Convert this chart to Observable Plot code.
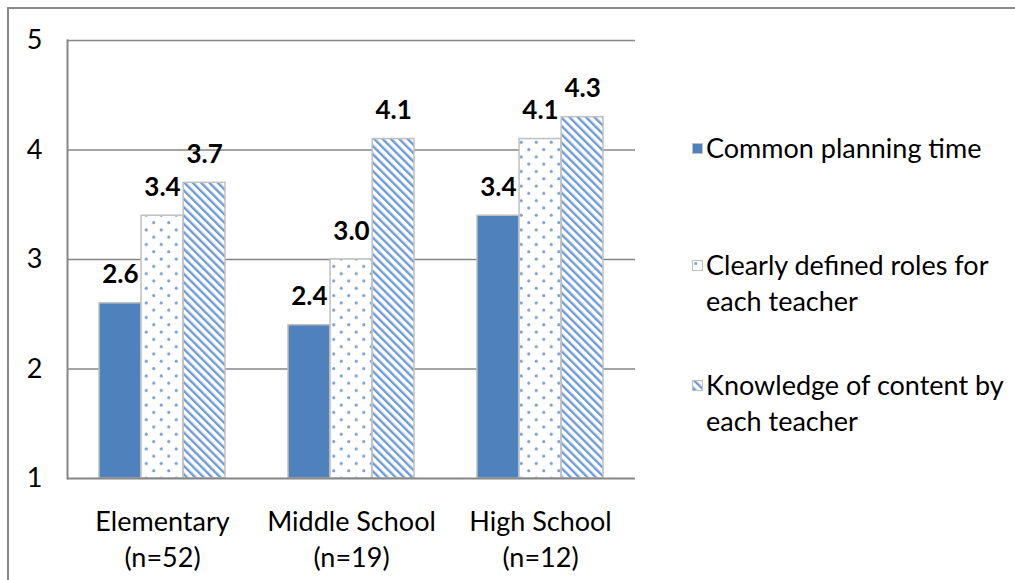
<!DOCTYPE html>
<html>
<head>
<meta charset="utf-8">
<script src="https://cdn.jsdelivr.net/npm/d3@7"></script>
<script src="https://cdn.jsdelivr.net/npm/@observablehq/plot@0.6"></script>
<style>
  html, body { margin: 0; padding: 0; background: #fff; overflow: hidden; }
  body { width: 1015px; height: 580px; position: relative; font-family: Lato, sans-serif; }
  #border { position: absolute; left: 7px; top: 7px; width: 1100px; height: 700px; border: 2px solid #888; box-sizing: border-box; }
  #chart { position: absolute; left: 0; top: 0; }
  #legend { position: absolute; left: 692px; top: 0; width: 323px; font-size: 27px; color: #000; }
  .item { position: absolute; left: 0; display: flex; align-items: flex-start; line-height: 36px; }
  .swatch { width: 11px; height: 11px; margin-top: 13px; margin-right: 3px; flex: none; }
  .label { width: 305px; }
</style>
</head>
<body>
<svg width="0" height="0" style="position:absolute">
  <defs>
    <pattern id="dots" width="15" height="14.6" patternUnits="userSpaceOnUse">
      <rect width="15" height="14.6" fill="#fff"></rect>
      <circle cx="3.75" cy="3.6" r="1.6" fill="#7aa2d8"></circle>
      <circle cx="11.25" cy="10.9" r="1.6" fill="#7aa2d8"></circle>
    </pattern>
    <pattern id="hatch" width="5.9" height="5.9" patternUnits="userSpaceOnUse" patternTransform="rotate(-45)">
      <rect width="5.9" height="5.9" fill="#fff"></rect>
      <rect width="2.4" height="5.9" fill="#6f9bd4"></rect>
    </pattern>
  </defs>
</svg>
<div id="border"></div>
<div id="chart"></div>
<div id="legend"></div>
<script>
// Mean ratings by school level (scale 1–5)
const schools = ["Elementary", "Middle School", "High School"];
const sampleSizes = [52, 19, 12];
const seriesNames = [
  "Common planning time",
  "Clearly defined roles for each teacher",
  "Knowledge of content by each teacher"
];
const planningTime = [2.6, 2.4, 3.4];
const definedRoles = [3.4, 3.0, 4.1];
const contentKnowledge = [3.7, 4.1, 4.3];
const yTicks = [1, 2, 3, 4, 5];

const seriesValues = [planningTime, definedRoles, contentKnowledge];
const seriesFills = ["#4f81bd", "url(#dots)", "url(#hatch)"];

const rows = schools.flatMap((school, i) =>
  seriesNames.map((name, j) => ({school, series: name, idx: j, value: seriesValues[j][i]}))
);

// Layout
const W = 1015, H = 580;
const mL = 67, mR = 380, mT = 40, mB = 102;
const step = (W - mL - mR) / schools.length;
const groupW = step * (2 / 3);
const barW = groupW / 3;

const axisColor = "#868686";
const font = "Lato, sans-serif";

const bars = seriesNames.map((name, j) =>
  Plot.barY(rows.filter(d => d.idx === j), {
    x: "school", y1: 1, y2: "value",
    fill: seriesFills[j], stroke: "#c0c0c0", strokeWidth: 1.5,
    insetLeft: j * barW, insetRight: (seriesNames.length - 1 - j) * barW
  })
);

const labels = seriesNames.map((name, j) =>
  Plot.text(rows.filter(d => d.idx === j), {
    x: "school", y: "value", text: d => d.value.toFixed(1),
    dx: (j - 1) * barW, dy: -20, lineAnchor: "bottom",
    fontWeight: "bold", fontSize: 26, fill: "#000"
  })
);

const chart = Plot.plot({
  width: W, height: H,
  marginLeft: mL, marginRight: mR, marginTop: mT, marginBottom: mB,
  style: {fontFamily: font, fontSize: "27px", color: "#000", background: "transparent", overflow: "visible"},
  x: {domain: schools, paddingInner: 1 / 3, paddingOuter: 1 / 6, label: null},
  y: {domain: [1, 5], label: null},
  marks: [
    Plot.ruleY(yTicks.slice(1), {stroke: axisColor, strokeWidth: 1.5}),
    ...bars,
    Plot.ruleY([1], {stroke: axisColor, strokeWidth: 2}),
    Plot.frame({anchor: "left", stroke: axisColor, strokeWidth: 2}),
    Plot.axisY({ticks: yTicks, tickSize: 0, tickPadding: 25, fontSize: 27, tickFormat: d => String(d)}),
    Plot.axisX({
      tickSize: 0, tickPadding: 28, fontSize: 27, lineHeight: 1.3,
      tickFormat: s => `${s}\n(n=${sampleSizes[schools.indexOf(s)]})`
    }),
    ...labels
  ]
});
document.getElementById("chart").appendChild(chart);

// Legend to the right of the plot
const legendTops = [130, 247, 367];
const legend = document.getElementById("legend");
seriesNames.forEach((name, j) => {
  const item = document.createElement("div");
  item.className = "item";
  item.style.top = legendTops[j] + "px";
  const sw = document.createElementNS("http://www.w3.org/2000/svg", "svg");
  sw.setAttribute("class", "swatch");
  sw.setAttribute("width", 11);
  sw.setAttribute("height", 11);
  const r = document.createElementNS("http://www.w3.org/2000/svg", "rect");
  r.setAttribute("x", 0.5);
  r.setAttribute("y", 0.5);
  r.setAttribute("width", 10);
  r.setAttribute("height", 10);
  r.setAttribute("fill", seriesFills[j]);
  r.setAttribute("stroke", "#c0c0c0");
  r.setAttribute("stroke-width", 1);
  sw.appendChild(r);
  const lab = document.createElement("div");
  lab.className = "label";
  lab.textContent = name;
  item.appendChild(sw);
  item.appendChild(lab);
  legend.appendChild(item);
});
</script>
</body>
</html>
